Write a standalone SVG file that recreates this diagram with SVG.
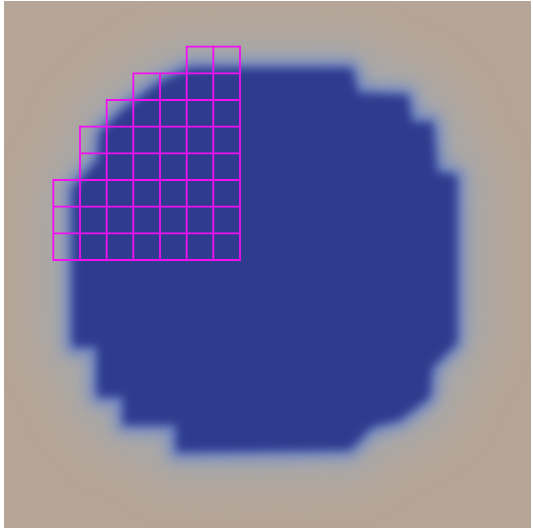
<svg xmlns="http://www.w3.org/2000/svg" width="533" height="528" viewBox="0 0 533 528">
<defs>
<filter id="bHalo" x="-30%" y="-30%" width="160%" height="160%"><feGaussianBlur stdDeviation="20"/></filter>
<filter id="bFringe" x="-20%" y="-20%" width="140%" height="140%"><feGaussianBlur stdDeviation="8"/></filter>
<filter id="bCore" x="-20%" y="-20%" width="140%" height="140%"><feGaussianBlur stdDeviation="5"/></filter>
<path id="blob" d="M190 68 L352 68 L358 93 L408 95 L412 122 L433 122 L437 172 L457 175 L457 343 L432 368 L430 397 L400 420 L372 427 L350 450 L176 452 L176 425 L123 425 L123 397 L97 397 L97 347 L72 347 L72 188 L98 160 L100 132 L125 108 L160 82 Z"/>
</defs>
<style>
.grid{fill:none;stroke:#f20ff0;stroke-width:1.8;stroke-linecap:square}
</style>
<rect x="0" y="0" width="533" height="528" fill="#ffffff"/>
<rect x="4" y="1" width="527" height="527" fill="#b5a597"/>
<g id="blob-shape">
<use href="#blob" fill="#a5a9ad" stroke="#a5a9ad" stroke-width="56" stroke-linejoin="round" filter="url(#bHalo)"/>
<use href="#blob" fill="#6d84c6" stroke="#6d84c6" stroke-width="14" filter="url(#bFringe)"/>
<use href="#blob" fill="#2e3b8e" filter="url(#bCore)"/>
</g>
<g id="grid">
<path class="grid" d="M186.7 46.7H240 M133.3 73.3H240 M106.7 100H240 M80 126.7H240 M80 153.3H240 M53.3 180H240 M53.3 206.7H240 M53.3 233.3H240 M53.3 260H240 M53.3 180V260 M80 126.7V260 M106.7 100V260 M133.3 73.3V260 M160 73.3V260 M186.7 46.7V260 M213.3 46.7V260 M240 46.7V260"/>
</g>
</svg>
